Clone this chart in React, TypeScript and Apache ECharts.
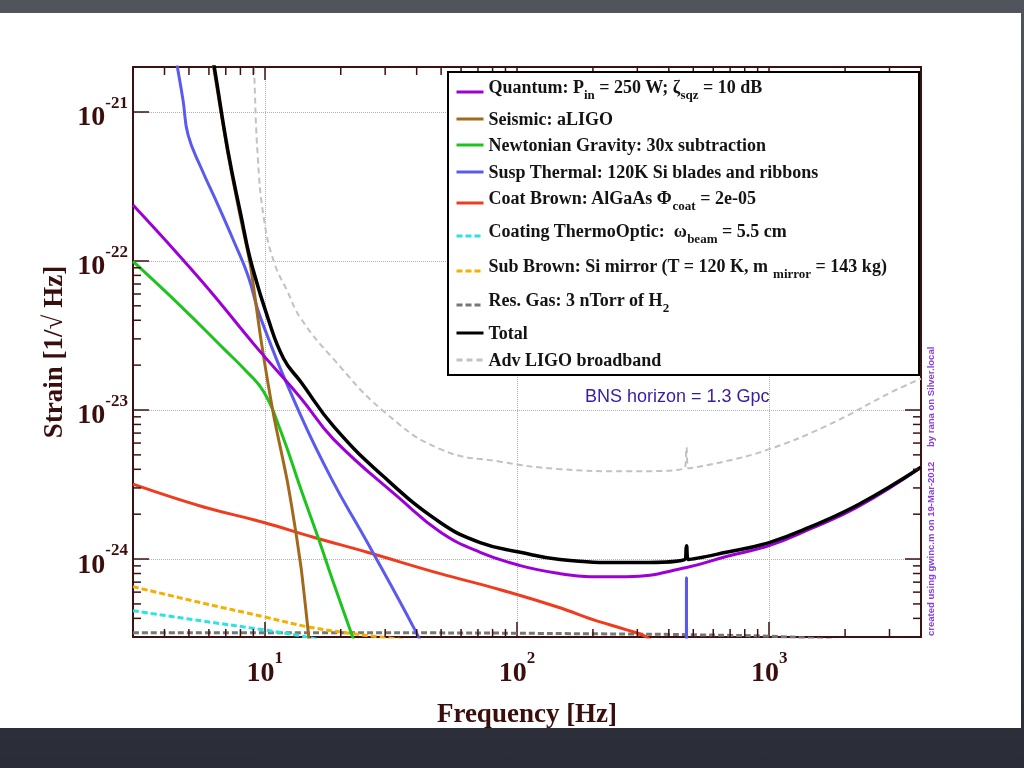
import React, { useEffect, useRef } from "react";
import * as echarts from "echarts";

// ---------- data (frequency [Hz], strain [1/rtHz]) ----------
const QUANTUM: [number, number][] = [
  [3.0, 2.37e-22], [5.59, 7.39e-23], [9.38, 2.57e-23], [13.9, 1.2e-23], [18.7, 6.38e-24],
  [34.5, 2.52e-24], [49.6, 1.52e-24], [71.4, 1.11e-24], [103, 9.04e-25],
  [148, 7.98e-25], [194, 7.62e-25], [272, 7.62e-25], [470, 8.77e-25], [676, 1.04e-24],
  [1000, 1.23e-24], [1440, 1.58e-24], [2270, 2.26e-24], [4000, 4.13e-24],
];
const SEISMIC: [number, number][] = [
  [6.0, 3.2e-21], [6.25, 2.04e-21], [7.1, 5.5e-22], [7.98, 2.0e-22], [8.75, 9.5e-23],
  [9.64, 3.0e-23], [10.85, 9.12e-24], [12.3, 3.27e-24], [13.9, 8.9e-25], [14.8, 3.46e-25],
  [15.3, 2.0e-25],
];
const NEWTONIAN: [number, number][] = [
  [3.0, 9.92e-23], [4.66, 4.94e-23], [6.88, 2.57e-23], [8.26, 1.89e-23], [9.91, 1.32e-23],
  [11.6, 7.11e-24], [13.9, 2.94e-24], [16.2, 1.42e-24], [18.7, 6.95e-25], [22.3, 3.0e-25],
  [24.0, 2.1e-25],
];
const SUSP: [number, number][] = [
  [4.29, 3.2e-21], [4.49, 2.04e-21], [4.74, 1.19e-21], [4.96, 7.0e-22], [5.59, 4.2e-22],
  [6.52, 2.37e-22], [7.54, 1.35e-22], [8.57, 7.99e-23], [9.64, 4.1e-23], [13.9, 9.12e-24],
  [18.7, 3.27e-24], [25.5, 1.29e-24], [40.3, 3.1e-25], [60, 8e-26], [200, 5e-27],
  [468, 2e-27], [470, 7.5e-25], [472, 2e-27], [1000, 1e-27],
];
const COAT: [number, number][] = [
  [3.0, 3.18e-24], [5.59, 2.26e-24], [9.91, 1.76e-24], [15.6, 1.4e-24], [25.5, 1.11e-24],
  [49.6, 7.98e-25], [85.8, 6.23e-25], [148, 4.71e-25], [200, 3.92e-25], [272, 3.35e-25],
  [326, 3.0e-25], [367, 2.46e-25],
];
const COAT_TO: [number, number][] = [
  [3.0, 4.5e-25], [5.59, 3.85e-25], [9.91, 3.35e-25], [13.9, 3.05e-25], [16.0, 2.9e-25],
  [25, 2.4e-25],
];
const SUB_BROWN: [number, number][] = [
  [3.0, 6.53e-25], [5.59, 5.09e-25], [9.91, 4.1e-25], [14.8, 3.51e-25], [22.5, 3.15e-25],
  [28.7, 3.0e-25], [54.5, 2.65e-25],
];
const RES_GAS: [number, number][] = [
  [3.0, 3.2e-25], [34.5, 3.2e-25], [213, 3.15e-25], [528, 3.1e-25], [1200, 3.0e-25],
  [2070, 2.8e-25],
];
const TOTAL: [number, number][] = [
  [6.0, 3.2e-21], [6.29, 2.04e-21], [7.14, 5.46e-22], [8.04, 2.02e-22], [8.8, 9.92e-23],
  [10.3, 4.1e-23], [11.89, 2.2e-23], [13.9, 1.54e-23], [18.7, 7.8e-24],
  [29.5, 3.59e-24], [49.6, 1.76e-24], [71.4, 1.29e-24], [103, 1.11e-24], [148, 9.93e-25],
  [272, 9.47e-25], [462, 9.93e-25], [470, 1.23e-24], [478, 9.93e-25], [676, 1.11e-24],
  [1000, 1.29e-24], [1440, 1.63e-24], [2270, 2.33e-24], [4000, 4.13e-24],
];
const ADV_LIGO: [number, number][] = [
  [8.96, 3.15e-21], [9.05, 2.04e-21], [9.38, 4.9e-22], [9.91, 1.93e-22], [10.85, 9.92e-23],
  [12.3, 6.23e-23], [13.9, 4.1e-23], [18.7, 2.2e-23], [29.5, 9.85e-24], [49.6, 5.46e-24],
  [85.8, 4.5e-24], [148, 4.01e-24], [272, 3.88e-24], [462, 4.07e-24], [470, 5.63e-24],
  [478, 4.07e-24], [676, 4.54e-24], [1000, 5.46e-24], [1680, 7.8e-24], [3060, 1.32e-23],
  [4000, 1.62e-23],
];

// axis ranges and tick values
const X_MIN = 3;
const X_MAX = 4000;
const Y_MIN = 3e-25;
const Y_MAX = 2e-21;
const Y_EXP_OFFSET = 25; // plotted strain = strain * 1e25
const X_MINOR = [4, 5, 6, 7, 8, 9, 20, 30, 40, 50, 60, 70, 80, 90, 200, 300, 400, 500, 600, 700, 800, 900, 2000, 3000];
const Y_MINOR = [4e-25, 5e-25, 6e-25, 7e-25, 8e-25, 9e-25, 2e-24, 3e-24, 4e-24, 5e-24, 6e-24, 7e-24, 8e-24, 9e-24,
  2e-23, 3e-23, 4e-23, 5e-23, 6e-23, 7e-23, 8e-23, 9e-23];

// legend rows: [series name, rich label, has subscript, icon centre y]
const LEGEND_ROWS: [string, string, boolean, number][] = [
  ["Quantum", "{m|Quantum: P}{s|in}{m| = 250 W; ζ}{s|sqz}{m| = 10 dB}", true, 92],
  ["Seismic", "{m|Seismic: aLIGO}", false, 121],
  ["Newtonian", "{m|Newtonian Gravity: 30x subtraction}", false, 147],
  ["Susp", "{m|Susp Thermal: 120K Si blades and ribbons}", false, 174],
  ["Coat", "{m|Coat Brown: AlGaAs Φ}{s|coat}{m| = 2e-05}", true, 203],
  ["CoatTO", "{m|Coating ThermoOptic:  ω}{s|beam}{m| = 5.5 cm}", true, 236],
  ["SubBrown", "{m|Sub Brown: Si mirror (T = 120 K, m }{s|mirror}{m| = 143 kg)}", true, 271],
  ["ResGas", "{m|Res. Gas: 3 nTorr of H}{s|2}", true, 305],
  ["Total", "{m|Total}", false, 335],
  ["AdvLIGO", "{m|Adv LIGO broadband}", false, 362],
];

const SERIF = "Liberation Serif";
const SANS = "Liberation Sans";
const TEXT = "#3b0e0e";
const FRAME = "#3d1111";

const scaleY = (d: [number, number][]) => d.map(([f, h]) => [f, h * Math.pow(10, Y_EXP_OFFSET)]);
const sy = (h: number) => h * Math.pow(10, Y_EXP_OFFSET);

function buildOption() {
  const lineSeries = (name: string, data: [number, number][], color: string, width: number, type: any, smooth: number) => ({
    type: "line",
    name,
    data: scaleY(data),
    showSymbol: false,
    symbol: "none",
    smooth,
    clip: true,
    z: 2,
    color,
    lineStyle: { color, width, type },
    emphasis: { disabled: true },
  });

  const series: any[] = [
    lineSeries("AdvLIGO", ADV_LIGO, "#c2c2c2", 2, [6, 4], 0.45),
    lineSeries("ResGas", RES_GAS, "#777777", 3, [6, 3], 0.4),
    lineSeries("SubBrown", SUB_BROWN, "#f4b000", 3, [6, 3], 0.4),
    lineSeries("CoatTO", COAT_TO, "#2ee2e2", 3, [6, 3], 0.4),
    lineSeries("Coat", COAT, "#f03c1e", 3, "solid", 0.4),
    lineSeries("Susp", SUSP, "#5a5af0", 3, "solid", 0.45),
    lineSeries("Newtonian", NEWTONIAN, "#1ec41e", 3, "solid", 0.45),
    lineSeries("Seismic", SEISMIC, "#a2691c", 3, "solid", 0.2),
    lineSeries("Quantum", QUANTUM, "#9c00d6", 3, "solid", 0.45),
    lineSeries("Total", TOTAL, "#000000", 3.5, "solid", 0.45),
    {
      type: "custom",
      name: "xminor",
      silent: true,
      z: 3,
      data: X_MINOR.map((v) => [v, sy(Y_MIN)]),
      renderItem: (_p: any, api: any) => {
        const x = api.value(0);
        const b = api.coord([x, sy(Y_MIN)]);
        const t = api.coord([x, sy(Y_MAX)]);
        const st = { stroke: FRAME, lineWidth: 1.5 };
        return {
          type: "group",
          children: [
            { type: "line", shape: { x1: b[0], y1: b[1], x2: b[0], y2: b[1] - 8 }, style: st },
            { type: "line", shape: { x1: t[0], y1: t[1], x2: t[0], y2: t[1] + 8 }, style: st },
          ],
        };
      },
    },
    {
      type: "custom",
      name: "yminor",
      silent: true,
      z: 3,
      data: Y_MINOR.map((v) => [X_MIN, sy(v)]),
      renderItem: (_p: any, api: any) => {
        const y = api.value(1);
        const l = api.coord([X_MIN, y]);
        const r = api.coord([X_MAX, y]);
        const st = { stroke: FRAME, lineWidth: 1.5 };
        return {
          type: "group",
          children: [
            { type: "line", shape: { x1: l[0], y1: l[1], x2: l[0] + 8, y2: l[1] }, style: st },
            { type: "line", shape: { x1: r[0], y1: r[1], x2: r[0] - 8, y2: r[1] }, style: st },
          ],
        };
      },
    },
  ];

  const legendRich = {
    m: { fontFamily: SERIF, fontWeight: "bold", fontSize: 18, lineHeight: 22, color: "#141414" },
    s: { fontFamily: SERIF, fontWeight: "bold", fontSize: 13, lineHeight: 13, padding: [14, 0, 0, 0], color: "#141414" },
  };

  const legends = LEGEND_ROWS.map(([name, label, sub, iconY]) => ({
    data: [name],
    orient: "vertical",
    left: 455,
    top: sub ? iconY - 18.5 : iconY - 11,
    padding: 0,
    itemWidth: 27,
    itemHeight: 10,
    selectedMode: false,
    formatter: () => label,
    itemStyle: { opacity: 0 },
    lineStyle: { width: 3 },
    textStyle: { rich: legendRich, padding: sub ? [0, 0, 10, 0] : 0 },
    z: 6,
  }));

  const tickRich = {
    b: { fontFamily: SERIF, fontWeight: "bold", fontSize: 28, lineHeight: 36, padding: [8, 0, 0, 0], color: TEXT },
    e: { fontFamily: SERIF, fontWeight: "bold", fontSize: 17, lineHeight: 18, verticalAlign: "top", color: TEXT },
  };
  const powLabel = (offset: number) => (v: number) => {
    const l = Math.log10(v);
    const e = Math.round(l);
    if (Math.abs(l - e) > 1e-6) return "";
    return `{b|10}{e|${e - offset}}`;
  };
  const nameStyle = { fontFamily: SERIF, fontWeight: "bold", fontSize: 27, color: TEXT };
  const splitLine = { show: true, lineStyle: { color: "#b0b0b0", type: "dotted", width: 1 } };

  return {
    animation: false,
    backgroundColor: "transparent",
    grid: { left: 133, top: 67, width: 788, height: 570, containLabel: false },
    xAxis: [
      {
        type: "log", logBase: 10, min: X_MIN, max: X_MAX, position: "bottom",
        axisLine: { show: true, onZero: false, lineStyle: { color: FRAME, width: 2 } },
        axisTick: { show: true, inside: true, length: 15, lineStyle: { color: FRAME, width: 1.5 } },
        axisLabel: { formatter: powLabel(0), rich: tickRich, margin: 12, showMinLabel: false, showMaxLabel: false },
        splitLine,
        name: "Frequency [Hz]", nameLocation: "middle", nameGap: 62, nameTextStyle: nameStyle,
      },
      {
        type: "log", logBase: 10, min: X_MIN, max: X_MAX, position: "top",
        axisLine: { show: true, onZero: false, lineStyle: { color: FRAME, width: 2 } },
        axisTick: { show: true, inside: true, length: 13, lineStyle: { color: FRAME, width: 1.5 } },
        axisLabel: { show: false }, splitLine: { show: false },
      },
    ],
    yAxis: [
      {
        type: "log", logBase: 10, min: sy(Y_MIN), max: sy(Y_MAX), position: "left",
        axisLine: { show: true, onZero: false, lineStyle: { color: FRAME, width: 2 } },
        axisTick: { show: true, inside: true, length: 16, lineStyle: { color: FRAME, width: 1.5 } },
        axisLabel: { formatter: powLabel(Y_EXP_OFFSET), rich: tickRich, margin: 5, showMinLabel: false, showMaxLabel: false },
        splitLine,
        name: "Strain [1/√ Hz]", nameLocation: "middle", nameGap: 62, nameTextStyle: nameStyle,
      },
      {
        type: "log", logBase: 10, min: sy(Y_MIN), max: sy(Y_MAX), position: "right",
        axisLine: { show: true, onZero: false, lineStyle: { color: FRAME, width: 2 } },
        axisTick: { show: true, inside: true, length: 16, lineStyle: { color: FRAME, width: 1.5 } },
        axisLabel: { show: false }, splitLine: { show: false },
      },
    ],
    legend: legends,
    graphic: [
      {
        type: "rect", z: -100, silent: true,
        shape: { x: 0, y: 0, width: 1024, height: 768 },
        style: {
          fill: new echarts.graphic.LinearGradient(0, 0, 0, 1, [
            { offset: 0, color: "#51545b" },
            { offset: 1, color: "#2a2c37" },
          ]),
        },
      },
      { type: "rect", z: -99, silent: true, shape: { x: 0, y: 13, width: 1021, height: 715 }, style: { fill: "#ffffff" } },
      {
        type: "rect", z: 5, silent: true,
        shape: { x: 448, y: 72, width: 471, height: 303 },
        style: { fill: "#ffffff", stroke: "#000000", lineWidth: 2 },
      },
      {
        type: "text", z: 6, silent: true, x: 585, y: 396,
        style: { text: "BNS horizon = 1.3 Gpc", fill: "#3a1aa8", fontFamily: SANS, fontSize: 18, textAlign: "left", textVerticalAlign: "middle", align: "left", verticalAlign: "middle" },
      },
      {
        type: "text", z: 6, silent: true, x: 930, y: 636, rotation: Math.PI / 2,
        style: { text: "created using gwinc.m on 19-Mar-2012", fill: "#8a3ee0", fontFamily: SANS, fontWeight: "bold", fontSize: 9.5, textAlign: "left", textVerticalAlign: "middle", align: "left", verticalAlign: "middle" },
      },
      {
        type: "text", z: 6, silent: true, x: 930, y: 447, rotation: Math.PI / 2,
        style: { text: "by rana on Silver.local", fill: "#8a3ee0", fontFamily: SANS, fontWeight: "bold", fontSize: 9.5, textAlign: "left", textVerticalAlign: "middle", align: "left", verticalAlign: "middle" },
      },
    ],
    series,
  };
}

export default function App() {
  const ref = useRef<HTMLDivElement>(null);
  useEffect(() => {
    if (!ref.current) return;
    const chart = echarts.init(ref.current, null, { renderer: "svg" });
    chart.setOption(buildOption() as any);
    return () => chart.dispose();
  }, []);
  return <div ref={ref} style={{ position: "fixed", left: 0, top: 0, width: 1024, height: 768 }} />;
}
